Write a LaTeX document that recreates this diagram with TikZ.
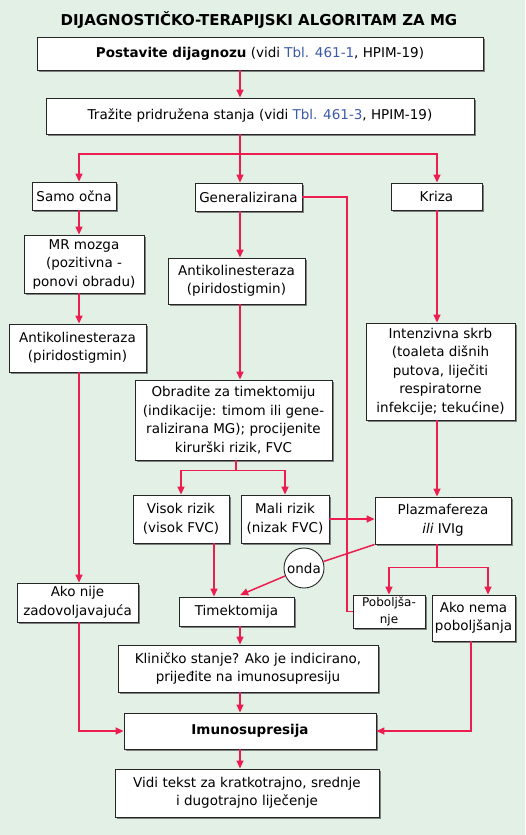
\documentclass[tikz,border=0pt]{standalone}
\usepackage{fontspec}
\setmainfont{DejaVu Sans}
\usetikzlibrary{arrows.meta,shadows}

\definecolor{bgreen}{RGB}{226,240,230}
\definecolor{flow}{RGB}{236,30,80}
\definecolor{tblblue}{RGB}{60,90,170}

\tikzset{
    box/.style={draw=black!85, line width=0.9pt, fill=white, align=center, inner sep=0pt,
        font=\fontsize{13.5}{18.5}\selectfont,
        drop shadow={shadow xshift=2pt, shadow yshift=-2pt, fill=black!50, opacity=1}},
    link/.style={draw=flow, line width=1.5pt},
    arr/.style={link, -{Triangle[length=8pt,width=7pt]}},
}

\newcommand{\tbl}[1]{\textcolor{tblblue}{#1}}

\begin{document}
\begin{tikzpicture}[x=1pt, y=-1pt]
    \fill[bgreen] (0,0) rectangle (525,835);
    \useasboundingbox (0,0) rectangle (525,835);

    \node[font=\bfseries\fontsize{15}{18}\selectfont] (title) at (259,20) {DIJAGNOSTIČKO-TERAPIJSKI ALGORITAM ZA MG};

    \node[box, minimum width=446pt, minimum height=33pt] (post) at (260,53.5) {\textbf{Postavite dijagnozu} (vidi \tbl{Tbl. 461-1}, HPIM-19)};
    \node[box, minimum width=428pt, minimum height=36pt] (trazi) at (260,116) {Tražite pridružena stanja (vidi \tbl{Tbl. 461-3}, HPIM-19)};

    \node[box, minimum width=84pt, minimum height=28pt] (samo) at (74,196) {Samo očna};
    \node[box, minimum width=107pt, minimum height=28pt] (gen) at (248.5,197) {Generalizirana};
    \node[box, minimum width=91pt, minimum height=27pt] (kriza) at (436.5,196.5) {Kriza};

    \node[box, minimum width=120pt, minimum height=58pt] (mr) at (84,264) {MR mozga\\(pozitivna -\\ponovi obradu)};
    \node[box, minimum width=137pt, minimum height=48pt] (anti1) at (77.5,348) {Antikolinesteraza\\(piridostigmin)};
    \node[box, minimum width=137pt, minimum height=46pt] (anti2) at (236.5,281) {Antikolinesteraza\\(piridostigmin)};
    \node[box, minimum width=149pt, minimum height=97pt] (inten) at (440.5,371.5) {Intenzivna skrb\\ (toaleta dišnih\\putova, liječiti\\respiratorne\\infekcije; tekućine)};

    \node[box, minimum width=197pt, minimum height=80pt] (obr) at (233.5,420) {Obradite za timektomiju\\(indikacije: timom ili gene-\\ralizirana MG); procijenite\\kirurški rizik, FVC};
    \node[box, minimum width=96pt, minimum height=48pt] (visok) at (181,519) {Visok rizik\\(visok FVC)};
    \node[box, minimum width=88pt, minimum height=48pt] (mali) at (285,519) {Mali rizik\\(nizak FVC)};
    \node[box, minimum width=136pt, minimum height=47pt] (plaz) at (443,520.5) {Plazmafereza\\\textit{ili} IVIg};

    \node[circle, draw=black!85, line width=0.9pt, fill=white, minimum size=40pt, inner sep=0pt, font=\fontsize{13.5}{16}\selectfont] (onda) at (304,568) {onda};

    \node[box, minimum width=121pt, minimum height=39pt] (akonije) at (77.5,602.5) {Ako nije\\zadovoljavajuća};
    \node[box, minimum width=115pt, minimum height=29pt] (timek) at (236.5,611.5) {Timektomija};
    \node[box, minimum width=72pt, minimum height=33pt, font=\fontsize{12}{16.5}\selectfont] (pob) at (389,611.5) {Poboljša-\\nje};
    \node[box, minimum width=83pt, minimum height=46pt] (akonema) at (473.5,618) {Ako nema\\poboljšanja};

    \node[box, minimum width=260pt, minimum height=47pt] (klin) at (248,668.5) {Kliničko stanje? Ako je indicirano,\\prijeđite na imunosupresiju};
    \node[box, minimum width=252pt, minimum height=36pt] (imuno) at (250,731) {\textbf{Imunosupresija}};
    \node[box, minimum width=264pt, minimum height=48pt] (vidi) at (247,793) {Vidi tekst za kratkotrajno, srednje\\i dugotrajno liječenje};

    \coordinate (colA) at (79,0);
    \coordinate (colB) at (240,0);
    \coordinate (colC) at (437,0);
    \coordinate (colG) at (347,0);
    \coordinate (colS) at (236,0);
    \coordinate (colT) at (214,0);
    \coordinate (colM) at (471,0);
    \coordinate (colN) at (488,0);
    \coordinate (split) at (240,154);

    \draw[arr] (post.south -| colB) -- (trazi.north -| colB);
    \draw[arr] (trazi.south -| colB) -- (gen.north -| colB);
    \draw[arr] (trazi.south -| colB) |- (split) -| (samo.north -| colA);
    \draw[arr] (split) -| (kriza.north -| colC);

    \draw[arr] (samo.south -| colA) -- (mr.north -| colA);
    \draw[arr] (mr.south -| colA) -- (anti1.north -| colA);
    \draw[arr] (anti1.south -| colA) -- (akonije.north -| colA);
    \draw[arr] (akonije.south -| colA) |- (imuno.west);

    \draw[arr] (gen.south -| colB) -- (anti2.north -| colB);
    \draw[arr] (anti2.south -| colB) -- (obr.north -| colB);
    \draw[arr] (obr.south -| colS) -- ++(0,10) -| (visok.north);
    \draw[arr] (obr.south -| colS) -- ++(0,10) -| (mali.north);
    \draw[arr] (visok.south -| colT) -- (timek.north -| colT);
    \draw[arr] (mali.east) -- (mali.east -| plaz.west);
    \draw[link] (gen.east) -| (colG |- pob.west) -- (pob.west);

    \draw[arr] (kriza.south -| colC) -- (inten.north -| colC);
    \draw[arr] (inten.south -| colC) -- (plaz.north -| colC);
    \draw[link] (plaz.south west) -- (onda);
    \draw[arr, shorten >=4pt] (onda) -- (timek.north);
    \draw[arr] (plaz.south -| colC) -- ++(0,23) -| (pob.north);
    \draw[arr] (plaz.south -| colC) -- ++(0,23) -| (akonema.north -| colN);

    \draw[arr] (timek.south -| colB) -- (klin.north -| colB);
    \draw[arr] (klin.south -| colB) -- (imuno.north -| colB);
    \draw[arr] (akonema.south -| colM) |- (imuno.east);
    \draw[arr] (imuno.south -| colB) -- (vidi.north -| colB);

\end{tikzpicture}
\end{document}
